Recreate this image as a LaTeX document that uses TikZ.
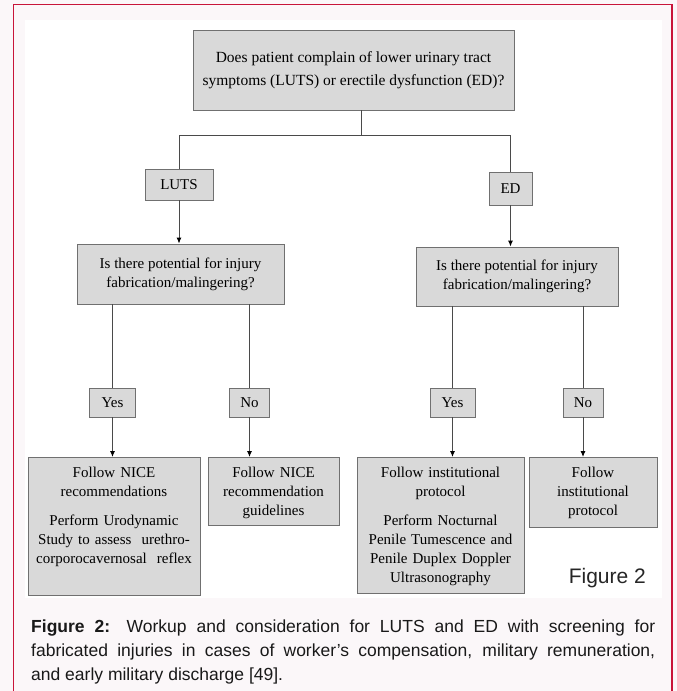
\documentclass[tikz,border=0pt]{standalone}
\usepackage{fontspec}
\setmainfont{Liberation Serif}
\newfontfamily\capfont{Liberation Sans}
\usetikzlibrary{arrows.meta, positioning, calc}

\definecolor{boxfill}{HTML}{D9D9D9}
\definecolor{boxline}{HTML}{707070}
\definecolor{connline}{HTML}{4A4A4A}
\definecolor{framered}{HTML}{C8153A}
\definecolor{pagetint}{HTML}{FBF7F9}

\newcommand{\flowfont}{\fontsize{15}{19}\selectfont}

\begin{document}
\begin{tikzpicture}[
  x=1pt, y=-1pt,
  box/.style = {draw=boxline, fill=boxfill, line width=0.9pt, inner sep=0pt, align=center, font=\flowfont},
  leaf/.style = {box, anchor=north, text height=20pt},
  conn/.style = {connline, line width=0.9pt},
  arrow/.style = {conn, -{Latex[length=6pt, width=5pt, color=black]}}
]
\useasboundingbox (0,0) rectangle (677,691);

% page and frame
\fill[pagetint] (0,0) rectangle (677,691);
\fill[white] (25,20) rectangle (662,598);
\draw[framered, line width=1.8pt] (13.5,691) -- (13.5,4.5) -- (672,4.5) -- (672,691);

% Opening question
\node[box, minimum width=321, minimum height=80, font=\fontsize{15.5}{23}\selectfont] (complain) at (353.5,70) {
  Does patient complain of lower urinary tract\\
  symptoms (LUTS) or erectile dysfunction (ED)?
};

% LUTS / ED
\node[box, minimum width=68, minimum height=31] (luts) at (179,184.5) {LUTS};
\node[box, minimum width=43, minimum height=33] (ed) at (510.5,188.5) {ED};

\coordinate (split) at (361,135);
\draw[conn] (split |- complain.south) -- (split) -| (luts.north);
\draw[conn] (split) -| (ed.north);

% Fabrication questions
\node[box, minimum width=207, minimum height=60] (lutsq) at (180.5,274) {
  Is there potential for injury\\ fabrication/malingering?
};
\node[box, minimum width=202, minimum height=59] (edq) at (517,276.5) {
  Is there potential for injury\\ fabrication/malingering?
};

\draw[arrow] (luts.south) -- (luts.south |- lutsq.north);
\draw[arrow] (ed.south) -- (ed.south |- edq.north);

% Yes / No
\node[box, minimum width=46, minimum height=29] (lutsyes) at (112.5,402.5) {Yes};
\node[box, minimum width=40, minimum height=29] (lutsno) at (249.5,402.5) {No};
\node[box, minimum width=45, minimum height=29] (edyes) at (452.5,402.5) {Yes};
\node[box, minimum width=40, minimum height=29] (edno) at (583,402.5) {No};

\foreach \ans/\q in {lutsyes/lutsq, lutsno/lutsq, edyes/edq, edno/edq}
  \draw[conn] (\ans.north |- \q.south) -- (\ans.north);

% Recommendations
\node[leaf, text width=172pt, text depth=118pt] (lutsyesrec) at (114,457) {
  Follow NICE\\ recommendations\\[10pt]
  Perform Urodynamic\\ Study to assess\ \ urethro-\\ corporocavernosal\ \ reflex
};
\node[leaf, text width=131pt, text depth=48pt] (lutsnorec) at (273.5,457) {
  Follow NICE\\ recommendation\\ guidelines
};
\node[leaf, text width=167pt, text depth=116pt] (edyesrec) at (440.5,457) {
  Follow institutional\\ protocol\\[10pt]
  Perform Nocturnal\\ Penile Tumescence and\\ Penile Duplex Doppler\\ Ultrasonography
};
\node[leaf, text width=128pt, text depth=50pt] (ednorec) at (593,457) {
  Follow\\ institutional\\ protocol
};

\draw[arrow] (lutsyes.south) -- (lutsyes.south |- lutsyesrec.north);
\draw[arrow] (lutsno.south) -- (lutsno.south |- lutsnorec.north);
\draw[arrow] (edyes.south) -- (edyes.south |- edyesrec.north);
\draw[arrow] (edno.south) -- (edno.south |- ednorec.north);

% Figure tag and caption
\node[anchor=base east, inner sep=0pt, font=\capfont\fontsize{21}{25}\selectfont, text=black!85] (figtag) at (646,583) {Figure 2};

\node[anchor=base west, inner sep=0pt, text width=624pt, align=justify,
      font=\capfont\fontsize{17.5}{24}\selectfont, text=black!90] (caption) at (31,632) {
  \textbf{Figure 2:} Workup and consideration for LUTS and ED with screening for\linebreak
  fabricated injuries in cases of worker’s compensation, military remuneration,\linebreak
  and early military discharge [49].
};

\end{tikzpicture}
\end{document}
